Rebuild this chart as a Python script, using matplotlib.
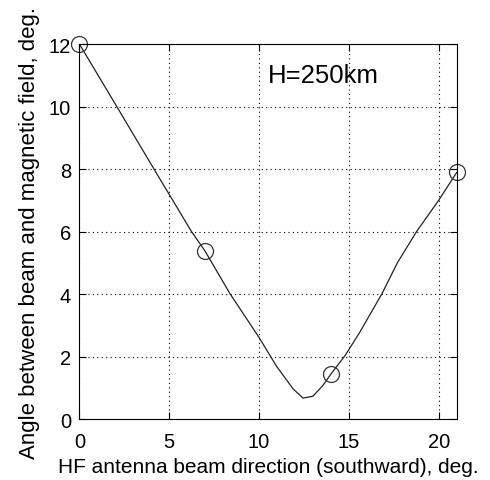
import matplotlib
matplotlib.use("Agg")
import matplotlib.pyplot as plt

# measured data points (circles)
pts_x = [0, 7, 14, 21]
pts_y = [12.0, 5.37, 1.44, 7.89]

# smooth curve samples
curve_x = [0, 2.08, 4.15, 6.24, 7.0, 8.37, 10.0, 10.96, 11.9, 12.45, 13.0, 13.55, 14.0, 14.8, 15.6, 16.85, 17.7, 18.77, 20.0, 21.0]
curve_y = [12.0, 10.0, 8.0, 6.0, 5.37, 4.02, 2.61, 1.7, 0.96, 0.67, 0.73, 1.07, 1.44, 2.04, 2.77, 4.02, 5.0, 6.0, 7.0, 7.89]

xticks = [0, 5, 10, 15, 20]
yticks = [0, 2, 4, 6, 8, 10, 12]

plt.rcParams['font.family'] = ['Liberation Sans', 'DejaVu Sans']

fig = plt.figure(figsize=(4.9, 4.81), dpi=100)
ax = fig.add_axes([0.162, 0.1268, 0.770, 0.7796])

ax.plot(curve_x, curve_y, color='#222222', lw=0.9)
ax.plot(pts_x, pts_y, linestyle='none', marker='o', ms=11.5, mfc='none',
        mec='#333333', mew=0.9, clip_on=False)

ax.set_xlim(0, 21)
ax.set_ylim(0, 12)
ax.set_xticks(xticks)
ax.set_yticks(yticks)
ax.grid(True, color='black', linestyle=(0, (1, 3)), lw=0.8)
ax.tick_params(direction='in', length=5, width=0.8, top=True, right=True,
               labelsize=14.5)
ax.tick_params(axis='x', pad=9)
ax.tick_params(axis='y', pad=6)
for s in ax.spines.values():
    s.set_linewidth(0.8)

ax.set_xlabel('HF antenna beam direction (southward), deg.', fontsize=15, labelpad=5)
ax.set_ylabel('Angle between beam and magnetic field, deg.', fontsize=16, labelpad=6)
ax.text(13.6, 11.0, 'H=250km', fontsize=18.5, ha='center', va='center')

fig.savefig('out.png', dpi=100)
